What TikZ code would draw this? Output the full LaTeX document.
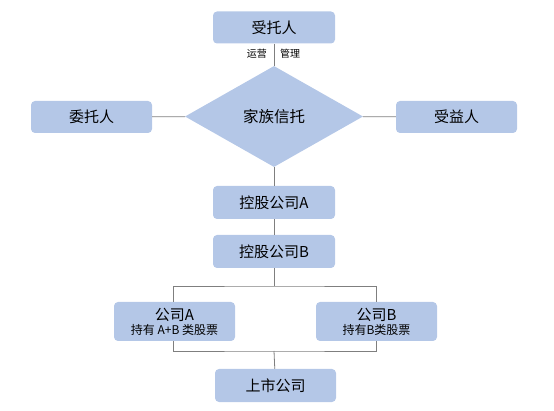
\documentclass[tikz,border=0pt]{standalone}
\usepackage{fontspec}
\setmainfont{Noto Sans CJK SC}
\usetikzlibrary{shapes.geometric}
\definecolor{boxfill}{HTML}{B4C7E7}
\definecolor{linec}{HTML}{7F7F7F}
\begin{document}
\begin{tikzpicture}[x=1pt,y=-1pt,
  boxnode/.style={fill=boxfill,rounded corners=4pt,inner sep=0pt,font=\fontsize{15}{17}\selectfont},
  conn/.style={draw=linec,line width=0.8pt},
  lbl/.style={font=\fontsize{10}{11}\selectfont,inner sep=0pt}]
\useasboundingbox (0,0) rectangle (554,411);
\node[boxnode,minimum width=122pt,minimum height=32pt] (trustee) at (274,27.5) {受托人};
\node[boxnode,minimum width=121pt,minimum height=32pt] (settlor) at (91.5,117) {委托人};
\node[boxnode,minimum width=121pt,minimum height=32pt] (benef) at (456.5,117) {受益人};
\node[diamond,fill=boxfill,minimum width=178pt,minimum height=101pt,inner sep=0pt,aspect=1.76,font=\fontsize{15.5}{17}\selectfont] (trust) at (274,116.5) {家族信托};
\node[boxnode,minimum width=122pt,minimum height=33pt] (holdA) at (274,202.5) {控股公司A};
\node[boxnode,minimum width=122pt,minimum height=33pt] (holdB) at (274,251.5) {控股公司B};
\node[boxnode,minimum width=121pt,minimum height=39pt,align=center] (compA) at (174.5,321.5) {公司A\\[-3pt]{\fontsize{12}{13}\selectfont 持有 A+B 类股票}};
\node[boxnode,minimum width=121pt,minimum height=39pt,align=center] (compB) at (376.5,321.5) {公司B\\[-3pt]{\fontsize{12}{13}\selectfont 持有B类股票}};
\node[boxnode,minimum width=121pt,minimum height=33pt] (listed) at (275.5,385.5) {上市公司};
\draw[conn] (trustee) -- (trust);
\draw[conn] (settlor) -- (trust);
\draw[conn] (trust) -- (benef);
\draw[conn] (trust) -- (holdA);
\draw[conn] (holdA) -- (holdB);
\coordinate (top) at (274,286);
\coordinate (bot) at (274,351);
\draw[conn] (holdB) -- (top);
\draw[conn] (compA.north) ++(-1.5,0) |- (top) -| (compB.north);
\draw[conn] (compA.south) ++(-1.5,0) |- (bot) -| (compB.south);
\draw[conn] (bot) -- (listed);
\node[lbl,anchor=east] (yy) at (267,54) {运营};
\node[lbl,anchor=west] (gl) at (280,54) {管理};
\end{tikzpicture}
\end{document}
